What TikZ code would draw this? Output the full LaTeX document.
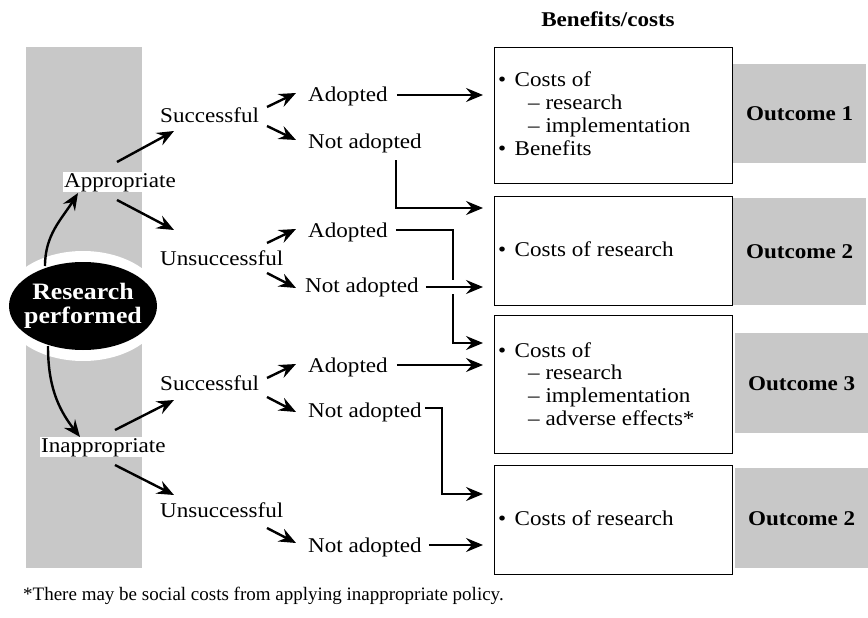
\documentclass[tikz,border=0pt]{standalone}
\usepackage{fontspec}
\setmainfont{Liberation Serif}[FakeStretch=1.1]
\newfontfamily\footfont{Liberation Serif}
\usetikzlibrary{arrows.meta}
\definecolor{bandgray}{HTML}{C8C8C8}
\newcommand{\linesat}[1]{\begin{tabular}[t]{@{}l@{}}#1\end{tabular}}
\begin{document}
\begin{tikzpicture}[x=1pt,y=-1pt,
  lab/.style={font=\fontsize{21}{22.7}\selectfont, inner sep=0pt, anchor=base west},
  btxt/.style={font=\fontsize{21}{22.7}\selectfont, inner sep=0pt, anchor=base west},
  arr/.style={line width=2.4pt, -{Stealth[length=17pt,width=14pt,inset=6pt]}},
  costbox/.style={draw, line width=1.3pt, minimum width=238pt, anchor=north west, inner sep=0pt},
  outbox/.style={fill=bandgray, minimum width=133pt, anchor=north west, inner sep=0pt,
                 font=\bfseries\fontsize{21}{24}\selectfont},
  ]
\useasboundingbox (0,0) rectangle (868,618);

% shaded band and research ellipse
\fill[bandgray] (26,47) rectangle (142,568);
\fill[white] (83,306) ellipse [x radius=81pt, y radius=55pt];
\fill[black] (83,306) ellipse [x radius=74pt, y radius=44pt];
\node[inner sep=0pt, text=white, align=center, font=\bfseries\fontsize{23.5}{23.5}\selectfont] (rp) at (83,306) {Research\\performed};

% left labels
\node[lab, fill=white, inner sep=1pt] (ap) at (63,187) {Appropriate};
\node[lab, fill=white, inner sep=1pt] (ip) at (40,452) {Inappropriate};
\node[lab] (s1) at (160,122) {Successful};
\node[lab] (u1) at (160,265) {Unsuccessful};
\node[lab] (s2) at (160,390) {Successful};
\node[lab] (u2) at (160,517) {Unsuccessful};

\node[lab] (a1) at (308,102) {Adopted};
\node[lab] (n1) at (308,148) {Not adopted};
\node[lab] (a2) at (308,237) {Adopted};
\node[lab] (n2) at (305,292) {Not adopted};
\node[lab] (a3) at (308,372) {Adopted};
\node[lab] (n3) at (308,417) {Not adopted};
\node[lab] (n4) at (308,552) {Not adopted};

% boxes
\node[font=\bfseries\fontsize{21}{24}\selectfont, anchor=base, inner sep=0pt] (hd) at (608,27) {Benefits/costs};
\node[costbox, minimum height=136pt] (b1) at (494,47) {};
\node[costbox, minimum height=109pt] (b2) at (494,196) {};
\node[costbox, minimum height=138pt] (b3) at (494,315) {};
\node[costbox, minimum height=109pt] (b4) at (494,465) {};

\node[btxt] (c1) at (498,87) {\linesat{•\hspace{0.4em}Costs of\\\hspace*{30pt}– research\\\hspace*{30pt}– implementation\\•\hspace{0.4em}Benefits}};
\node[btxt] (c2) at (498,256) {•\hspace{0.4em}Costs of research};
\node[btxt] (c3) at (498,357) {\linesat{•\hspace{0.4em}Costs of\\\hspace*{30pt}– research\\\hspace*{30pt}– implementation\\\hspace*{30pt}– adverse effects*}};
\node[btxt] (c4) at (498,525) {•\hspace{0.4em}Costs of research};

\node[outbox, minimum height=99pt] (o1) at (733,64) {Outcome 1};
\node[outbox, minimum height=107pt] (o2) at (733,198) {Outcome 2};
\node[outbox, minimum height=100pt] (o3) at (735,333) {Outcome 3};
\node[outbox, minimum height=100pt] (o4) at (735,468) {Outcome 2};

% curved arrows from the ellipse
\draw[arr] ([shift={(-38,-40)}]rp.center) to[out=90,in=238] ([shift={(15,6)}]ap.base west);
\draw[arr] ([shift={(-35,40)}]rp.center) to[out=270,in=128] ([shift={(40,-15)}]ip.base west);

% first-level branches
\draw[arr] ([shift={(54,-25)}]ap.base west) -- ([shift={(14,9)}]s1.base west);
\draw[arr] ([shift={(54,13)}]ap.base west) -- ([shift={(14,-35)}]u1.base west);
\draw[arr] ([shift={(75,-22)}]ip.base west) -- ([shift={(14,10)}]s2.base west);
\draw[arr] ([shift={(75,13)}]ip.base west) -- ([shift={(14,-22)}]u2.base west);

% second-level branches
\draw[arr] ([shift={(107,-15)}]s1.base west) -- ([shift={(-12,-9)}]a1.base west);
\draw[arr] ([shift={(107,4)}]s1.base west) -- ([shift={(-12,-8)}]n1.base west);
\draw[arr] ([shift={(107,-22)}]u1.base west) -- ([shift={(-12,-8)}]a2.base west);
\draw[arr] ([shift={(107,8)}]u1.base west) -- ([shift={(-9,-4)}]n2.base west);
\draw[arr] ([shift={(107,-12)}]s2.base west) -- ([shift={(-12,-8)}]a3.base west);
\draw[arr] ([shift={(107,7)}]s2.base west) -- ([shift={(-12,-5)}]n3.base west);
\draw[arr] ([shift={(107,11)}]u2.base west) -- ([shift={(-12,-9)}]n4.base west);

% connectors to the boxes
\coordinate (a1r) at ([shift={(9,-7)}]a1.base east);
\coordinate (n1d) at ([shift={(88,12)}]n1.base west);
\coordinate (b2in) at ([shift={(-11,12)}]b2.north west);
\coordinate (a2r) at ([shift={(8,-7)}]a2.base east);
\coordinate (b3in) at ([shift={(-11,28)}]b3.north west);
\coordinate (n2r) at ([shift={(7,-5)}]n2.base east);
\coordinate (a3r) at ([shift={(9,-7)}]a3.base east);
\coordinate (n3r) at ([shift={(3,-9)}]n3.base east);
\coordinate (b4in) at ([shift={(-11,29)}]b4.north west);
\coordinate (n4r) at ([shift={(7,-7)}]n4.base east);

\draw[arr, shorten >=11pt] (a1r) -- (a1r -| b1.west);
\draw[arr] (n1d) |- (b2in);
\draw[arr] (a2r) -| ([xshift=-30pt]b3in) -- (b3in);
\draw[arr, shorten >=11pt, preaction={draw=white, line width=14pt, -, shorten >=18pt}] (n2r) -- (n2r -| b2.west);
\draw[arr, shorten >=11pt] (a3r) -- (a3r -| b3.west);
\draw[arr] (n3r) -| ([xshift=-41pt]b4in) -- (b4in);
\draw[arr, shorten >=11pt] (n4r) -- (n4r -| b4.west);

% footnote
\node[anchor=base west, inner sep=0pt, font=\footfont\fontsize{19}{22}\selectfont] (fn) at (23,600) {*There may be social costs from applying inappropriate policy.};
\end{tikzpicture}
\end{document}
